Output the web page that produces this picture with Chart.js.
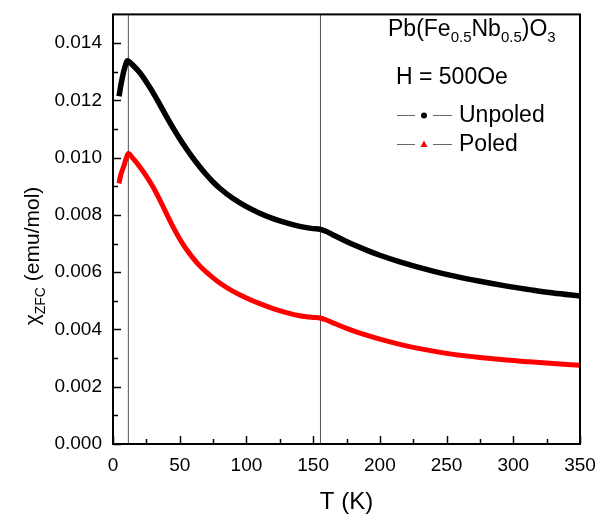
<!DOCTYPE html>
<html lang="en">
<head>
    <meta charset="UTF-8">
    <title>ZFC susceptibility</title>
    <script src="https://cdn.jsdelivr.net/npm/chart.js"></script>
    <style>
        body {
            margin: 0;
            background: #ffffff;
        }
        #chart-wrap {
            width: 606px;
            height: 517px;
        }
    </style>
</head>
<body>
    <div id="chart-wrap">
        <canvas id="chart-zfc" width="606" height="517"></canvas>
    </div>

    <script>
        // Unpoled sample (black)
        const tempUnpoled = [4.5, 6, 8, 9.5, 10.7, 15, 20, 25, 30, 35, 40, 45, 50, 55, 60, 65, 70, 75, 80, 90, 100, 110, 120, 130, 140, 150, 155, 160, 165, 175, 190, 200, 215, 237, 256, 275, 294, 312, 330, 350];
        const chiUnpoled = [0.01214, 0.01255, 0.01300, 0.01325, 0.01338, 0.01322, 0.01297, 0.01264, 0.01227, 0.01186, 0.01144, 0.01104, 0.01066, 0.01031, 0.00998, 0.00968, 0.00940, 0.00915, 0.00893, 0.00857, 0.00829, 0.00806, 0.00787, 0.00772, 0.00760, 0.00752, 0.00750, 0.00742, 0.00730, 0.00707, 0.00677, 0.00659, 0.00636, 0.00607, 0.00586, 0.00568, 0.00552, 0.00539, 0.00527, 0.00517];

        // Poled sample (red)
        const tempPoled = [4.5, 5.8, 8.3, 10, 11.5, 15, 20, 25, 30, 35, 40, 45, 50, 55, 60, 65, 70, 75, 80, 90, 100, 110, 120, 130, 140, 150, 155, 160, 165, 175, 190, 200, 215, 237, 255, 275, 295, 312, 330, 350];
        const chiPoled = [0.00910, 0.00939, 0.00973, 0.00999, 0.01014, 0.00997, 0.00968, 0.00935, 0.00897, 0.00853, 0.00805, 0.00758, 0.00716, 0.00680, 0.00649, 0.00622, 0.00600, 0.00580, 0.00562, 0.00533, 0.00510, 0.00490, 0.00473, 0.00459, 0.00448, 0.00442, 0.00440, 0.00433, 0.00423, 0.00404, 0.00380, 0.00366, 0.00348, 0.00327, 0.00313, 0.00302, 0.00293, 0.00287, 0.00281, 0.00275];

        // vertical marker lines at the transitions
        const transitionT = [11.5, 155.5];

        // axes
        const xMin = 0, xMax = 350, xStep = 50, xMinorStep = 25;
        const yMin = 0, yMax = 0.015, yStep = 0.002, yMinorStep = 0.001;

        function toPoints(xs, ys) {
            return xs.map((x, i) => ({ x: x, y: ys[i] }));
        }

        const datasets = [];
        transitionT.forEach(t => {
            datasets.push({
                data: [{ x: t, y: yMin }, { x: t, y: yMax }],
                borderColor: '#555555',
                borderWidth: 1,
                pointRadius: 0,
                order: 3
            });
        });
        datasets.push({
            label: 'Poled',
            data: toPoints(tempPoled, chiPoled),
            borderColor: '#ff0000',
            borderWidth: 5,
            pointRadius: 0,
            cubicInterpolationMode: 'monotone',
            order: 2
        });
        datasets.push({
            label: 'Unpoled',
            data: toPoints(tempUnpoled, chiUnpoled),
            borderColor: '#000000',
            borderWidth: 5.5,
            pointRadius: 0,
            cubicInterpolationMode: 'monotone',
            order: 1
        });

        // frame, inward ticks, y title and the text legend
        const decorations = {
            id: 'decorations',
            afterDraw(chart) {
                const ctx = chart.ctx;
                const a = chart.chartArea;
                const xs = chart.scales.x;
                const ys = chart.scales.y;
                ctx.save();

                // ticks
                ctx.strokeStyle = '#000';
                ctx.lineWidth = 1.5;
                for (let v = xMin; v <= xMax + 1e-9; v += xMinorStep) {
                    const px = Math.round(xs.getPixelForValue(v)) + 0.5;
                    const len = (Math.abs(v % xStep) < 1e-9) ? 8 : 5;
                    ctx.beginPath();
                    ctx.moveTo(px, a.bottom);
                    ctx.lineTo(px, a.bottom - len);
                    ctx.stroke();
                }
                for (let i = 0; yMin + i * yMinorStep <= yMax - 1e-9; i++) {
                    const v = yMin + i * yMinorStep;
                    const py = Math.round(ys.getPixelForValue(v)) + 0.5;
                    const len = (i % 2 === 0) ? 8 : 5;
                    ctx.beginPath();
                    ctx.moveTo(a.left, py);
                    ctx.lineTo(a.left + len, py);
                    ctx.stroke();
                }

                // frame
                ctx.lineWidth = 2;
                ctx.strokeRect(a.left, a.top, a.right - a.left, a.bottom - a.top);

                // y axis title with subscript
                ctx.fillStyle = '#000';
                ctx.textBaseline = 'alphabetic';
                const big = '21px "Liberation Sans", Arial, sans-serif';
                const small = '14px "Liberation Sans", Arial, sans-serif';
                const parts = [['\u03c7', big, 0], ['ZFC', small, 6], [' (emu/mol)', big, 0]];
                let total = 0;
                parts.forEach(p => { ctx.font = p[1]; total += ctx.measureText(p[0]).width; });
                ctx.save();
                ctx.translate(39, 256);
                ctx.rotate(-Math.PI / 2);
                let cx = -total / 2;
                parts.forEach(p => {
                    ctx.font = p[1];
                    ctx.fillText(p[0], cx, p[2]);
                    cx += ctx.measureText(p[0]).width;
                });
                ctx.restore();

                // formula
                const lg = '23px "Liberation Sans", Arial, sans-serif';
                const ls = '15px "Liberation Sans", Arial, sans-serif';
                const formula = [['Pb(Fe', lg, 0], ['0.5', ls, 6], ['Nb', lg, 0], ['0.5', ls, 6], [')O', lg, 0], ['3', ls, 6]];
                let fx = 388;
                formula.forEach(p => {
                    ctx.font = p[1];
                    ctx.fillText(p[0], fx, 36 + p[2]);
                    fx += ctx.measureText(p[0]).width;
                });
                ctx.font = lg;
                ctx.fillText('H = 500Oe', 396, 84);

                // legend entries
                const entries = [
                    { label: 'Unpoled', y: 115, color: '#000', shape: 'circle' },
                    { label: 'Poled', y: 144, color: '#ff0000', shape: 'triangle' }
                ];
                entries.forEach(e => {
                    ctx.strokeStyle = '#666';
                    ctx.lineWidth = 1;
                    ctx.beginPath();
                    ctx.moveTo(397, e.y + 0.5); ctx.lineTo(415, e.y + 0.5);
                    ctx.moveTo(433, e.y + 0.5); ctx.lineTo(452, e.y + 0.5);
                    ctx.stroke();
                    ctx.fillStyle = e.color;
                    ctx.beginPath();
                    if (e.shape === 'circle') {
                        ctx.arc(424, e.y + 0.5, 3, 0, Math.PI * 2);
                    } else {
                        ctx.moveTo(424, e.y - 3.5);
                        ctx.lineTo(427.5, e.y + 3);
                        ctx.lineTo(420.5, e.y + 3);
                        ctx.closePath();
                    }
                    ctx.fill();
                    ctx.fillStyle = '#000';
                    ctx.font = lg;
                    ctx.textBaseline = 'middle';
                    ctx.fillText(e.label, 459, e.y + 1);
                    ctx.textBaseline = 'alphabetic';
                });

                ctx.restore();
            }
        };

        const tickFont = { family: '"Liberation Sans", Arial, sans-serif', size: 19 };

        const chartZfc = new Chart(document.getElementById('chart-zfc').getContext('2d'), {
            type: 'line',
            data: { datasets: datasets },
            options: {
                responsive: false,
                animation: false,
                layout: { padding: { top: 7, right: 26, left: 0, bottom: 0 } },
                plugins: {
                    legend: { display: false },
                    tooltip: { enabled: false }
                },
                scales: {
                    x: {
                        type: 'linear',
                        min: xMin,
                        max: xMax,
                        grid: { display: false },
                        border: { display: false },
                        ticks: {
                            stepSize: xStep,
                            color: '#000',
                            font: tickFont,
                            padding: 2,
                            maxRotation: 0
                        },
                        title: {
                            display: true,
                            text: 'T (K)',
                            color: '#000',
                            font: { family: '"Liberation Sans", Arial, sans-serif', size: 24 },
                            padding: { top: 8, bottom: 0 }
                        },
                        afterFit(scale) { scale.height = 73; }
                    },
                    y: {
                        min: yMin,
                        max: yMax,
                        grid: { display: false },
                        border: { display: false },
                        ticks: {
                            stepSize: yStep,
                            color: '#000',
                            font: tickFont,
                            padding: 3,
                            callback: v => v.toFixed(3)
                        },
                        afterBuildTicks(scale) {
                            scale.ticks = scale.ticks.filter(t => Math.abs(t.value / yStep - Math.round(t.value / yStep)) < 1e-6);
                        },
                        afterFit(scale) { scale.width = 113; }
                    }
                }
            },
            plugins: [decorations]
        });
    </script>
</body>
</html>
